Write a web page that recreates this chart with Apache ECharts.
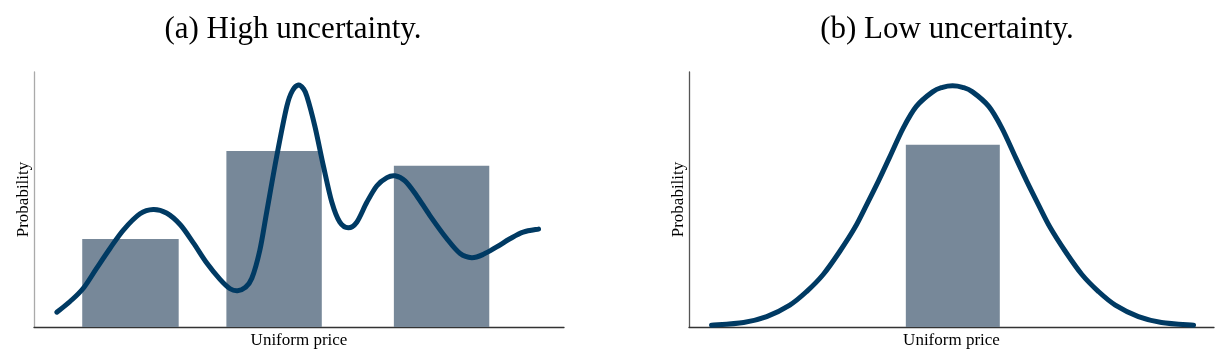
<!DOCTYPE html>
<html>
<head>
<meta charset="utf-8">
<script src="https://cdn.jsdelivr.net/npm/echarts@6/dist/echarts.min.js"></script>
<style>
  html, body { margin: 0; padding: 0; background: #ffffff; }
  #chart { width: 1224px; height: 354px; }
</style>
</head>
<body>
<div id="chart"></div>
<script>
// ---- Data (x: price 0..10, y: probability 0..1) ----
const panelTitles = ['(a) High uncertainty.', '(b) Low uncertainty.'];
const xAxisName = 'Uniform price';
const yAxisName = 'Probability';

// Panel (a): histogram bars [xStart, xEnd, height]
const highBars = [
  [0.91, 2.73, 0.345],
  [3.63, 5.43, 0.690],
  [6.79, 8.59, 0.632]
];
// Panel (a): density curve points [x, y]
const highCurve = [
  [0.43, 0.058], [0.68, 0.100], [0.93, 0.152], [1.18, 0.230], [1.43, 0.307],
  [1.69, 0.381], [2.00, 0.444], [2.25, 0.461], [2.50, 0.447], [2.76, 0.401],
  [3.01, 0.329], [3.26, 0.251], [3.51, 0.187], [3.70, 0.150], [3.84, 0.142],
  [3.98, 0.154], [4.11, 0.191], [4.26, 0.300], [4.39, 0.450], [4.58, 0.670],
  [4.77, 0.865], [4.88, 0.928], [4.99, 0.949], [5.08, 0.935], [5.15, 0.904],
  [5.30, 0.787], [5.46, 0.632], [5.62, 0.489], [5.77, 0.411], [5.93, 0.389],
  [6.09, 0.411], [6.28, 0.489], [6.47, 0.554], [6.66, 0.586], [6.81, 0.593],
  [7.00, 0.573], [7.22, 0.515], [7.47, 0.437], [7.79, 0.346], [8.04, 0.288],
  [8.26, 0.272], [8.48, 0.285], [8.73, 0.314], [8.98, 0.346], [9.23, 0.372],
  [9.52, 0.384]
];

// Panel (b): histogram bar [xStart, xEnd, height]
const lowBars = [
  [4.13, 5.92, 0.715]
];
// Panel (b): density curve points [x, y]
const lowCurve = [
  [0.43, 0.007], [1.04, 0.018], [1.48, 0.041], [1.92, 0.086], [2.24, 0.139],
  [2.56, 0.207], [2.88, 0.299], [3.16, 0.390], [3.39, 0.482], [3.61, 0.573],
  [3.82, 0.665], [4.08, 0.780], [4.33, 0.865], [4.64, 0.922], [4.83, 0.940],
  [5.02, 0.946],
  [5.21, 0.940], [5.40, 0.922], [5.71, 0.865], [5.96, 0.780], [6.22, 0.665],
  [6.43, 0.573], [6.65, 0.482], [6.88, 0.390], [7.16, 0.299], [7.48, 0.207],
  [7.80, 0.139], [8.12, 0.086], [8.56, 0.041], [9.00, 0.018], [9.61, 0.007]
];

// ---- Styles ----
const barColor = '#778899';
const lineColor = '#003a63';
const serif = '"Liberation Serif", "DejaVu Serif", serif';

function renderBar(params, api) {
  const p0 = api.coord([api.value(0), 0]);
  const p1 = api.coord([api.value(1), api.value(2)]);
  return {
    type: 'rect',
    shape: { x: p0[0], y: p1[1], width: p1[0] - p0[0], height: p0[1] - p1[1] },
    style: { fill: barColor }
  };
}

// Smooth curve (Catmull-Rom -> cubic Bezier) through points mapped by the axes
function makeCurveRenderer(points) {
  return function (params, api) {
    if (params.dataIndex !== 0) return null;
    const p = points.map(function (d) { return api.coord(d); });
    const n = p.length;
    let d = 'M' + p[0][0] + ' ' + p[0][1];
    for (let i = 0; i < n - 1; i++) {
      const a = p[Math.max(i - 1, 0)], b = p[i], c = p[i + 1], e = p[Math.min(i + 2, n - 1)];
      const c1x = b[0] + (c[0] - a[0]) / 6, c1y = b[1] + (c[1] - a[1]) / 6;
      const c2x = c[0] - (e[0] - b[0]) / 6, c2y = c[1] - (e[1] - b[1]) / 6;
      d += ' C' + c1x + ' ' + c1y + ' ' + c2x + ' ' + c2y + ' ' + c[0] + ' ' + c[1];
    }
    return {
      type: 'path',
      shape: { pathData: d },
      style: { fill: null, stroke: lineColor, lineWidth: 5, lineCap: 'round', lineJoin: 'round' }
    };
  };
}

function xAxisCfg(gridIndex) {
  return {
    type: 'value', gridIndex, min: 0, max: 10,
    name: xAxisName, nameLocation: 'middle', nameGap: 5,
    nameTextStyle: { fontFamily: serif, fontSize: 17, color: '#000' },
    axisLine: { show: true, onZero: false, lineStyle: { color: '#333333', width: 1.3 } },
    axisTick: { show: false }, axisLabel: { show: false }, splitLine: { show: false }
  };
}
function yAxisCfg(gridIndex, lineCol) {
  return {
    type: 'value', gridIndex, min: 0, max: 1,
    name: yAxisName, nameLocation: 'middle', nameGap: 2,
    nameTextStyle: { fontFamily: serif, fontSize: 17, color: '#000' },
    axisLine: { show: true, lineStyle: { color: lineCol, width: 1.3 } },
    axisTick: { show: false }, axisLabel: { show: false }, splitLine: { show: false }
  };
}

function curveSeries(idx, data) {
  return {
    type: 'custom', xAxisIndex: idx, yAxisIndex: idx, data: data, z: 3,
    encode: { x: 0, y: 1 }, renderItem: makeCurveRenderer(data)
  };
}

const chart = echarts.init(document.getElementById('chart'), null, { renderer: 'canvas' });
chart.setOption({
  backgroundColor: '#ffffff',
  animation: false,
  title: [
    { text: panelTitles[0], left: 288, top: 9, textAlign: 'center',
      textStyle: { fontFamily: serif, fontSize: 31, fontWeight: 'normal', color: '#000' } },
    { text: panelTitles[1], left: 942, top: 9, textAlign: 'center',
      textStyle: { fontFamily: serif, fontSize: 31, fontWeight: 'normal', color: '#000' } }
  ],
  grid: [
    { left: 34, top: 72, width: 530, height: 257 },
    { left: 689, top: 72, width: 525, height: 257 }
  ],
  xAxis: [xAxisCfg(0), xAxisCfg(1)],
  yAxis: [yAxisCfg(0, '#aaaaaa'), yAxisCfg(1, '#555555')],
  series: [
    { type: 'custom', xAxisIndex: 0, yAxisIndex: 0, renderItem: renderBar,
      data: highBars, z: 1, encode: { x: [0, 1], y: 2 } },
    curveSeries(0, highCurve),
    { type: 'custom', xAxisIndex: 1, yAxisIndex: 1, renderItem: renderBar,
      data: lowBars, z: 1, encode: { x: [0, 1], y: 2 } },
    curveSeries(1, lowCurve)
  ]
});
</script>
</body>
</html>
